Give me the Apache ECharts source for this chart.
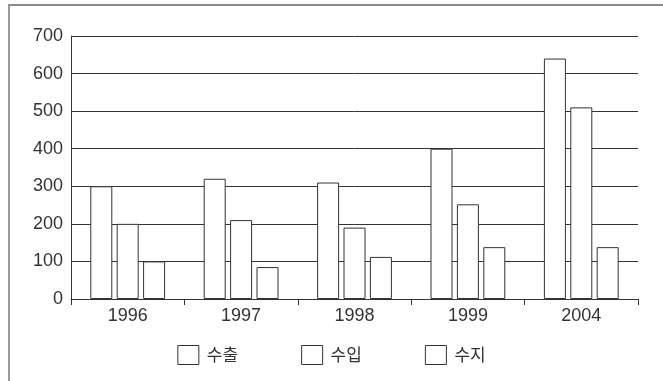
<!DOCTYPE html>
<html>
<head>
<meta charset="utf-8">
<script src="https://cdn.jsdelivr.net/npm/echarts@6/dist/echarts.min.js"></script>
<style>
  html, body { margin: 0; padding: 0; background: #fff; }
  #wrap { position: relative; width: 663px; height: 381px; overflow: hidden; }
  #chart { position: absolute; left: 0; top: 0; width: 663px; height: 381px; }
  #frame { position: absolute; left: 8px; top: 4px; width: 670px; height: 400px;
           border-top: 2px solid #8a8a8a; border-left: 2px solid #9a9a9a;
           pointer-events: none; }
</style>
</head>
<body>
<div id="wrap">
  <div id="chart"></div>
  <div id="frame"></div>
</div>
<script>
// 연도별 수출·수입·수지
const years = ['1996', '1997', '1998', '1999', '2004'];
const exportVals = [300, 320, 310, 400, 640];
const importVals = [200, 210, 190, 252, 510];
const balanceVals = [100, 85, 112, 138, 138];
const seriesNames = ['수출', '수입', '수지'];
const yTicks = [0, 100, 200, 300, 400, 500, 600, 700];

const lineColor = '#333333';
const barStyle = { color: '#ffffff', borderColor: '#333333', borderWidth: 1 };

const chart = echarts.init(document.getElementById('chart'), null, { renderer: 'canvas' });

chart.setOption({
  animation: false,
  backgroundColor: '#ffffff',
  grid: { left: 71, right: 25, top: 36, bottom: 82, containLabel: false },
  legend: {
    data: seriesNames,
    top: 340,
    left: 'center',
    icon: 'rect',
    itemWidth: 21,
    itemHeight: 19,
    itemGap: 63,
    itemStyle: { color: '#ffffff', borderColor: '#333333', borderWidth: 1 },
    textStyle: {
      fontFamily: '"Noto Sans CJK KR", sans-serif',
      fontSize: 17,
      color: '#333333',
      padding: [0, 0, 0, 3]
    }
  },
  xAxis: {
    type: 'category',
    data: years,
    boundaryGap: true,
    axisLine: { show: true, lineStyle: { color: lineColor, width: 1 } },
    axisTick: { show: true, length: 6, lineStyle: { color: lineColor } },
    axisLabel: {
      margin: 8,
      fontFamily: '"Liberation Sans", Arial, sans-serif',
      fontSize: 18,
      color: '#333333'
    },
    splitLine: { show: false }
  },
  yAxis: {
    type: 'value',
    min: yTicks[0],
    max: yTicks[yTicks.length - 1],
    interval: 100,
    axisLine: { show: true, lineStyle: { color: lineColor, width: 1 } },
    axisTick: { show: false },
    axisLabel: {
      margin: 8,
      fontFamily: '"Liberation Sans", Arial, sans-serif',
      fontSize: 18,
      color: '#333333'
    },
    splitLine: { show: true, lineStyle: { color: lineColor, width: 1 } }
  },
  series: [
    { name: seriesNames[0], type: 'bar', data: exportVals, barWidth: 22, barGap: '20%', itemStyle: barStyle },
    { name: seriesNames[1], type: 'bar', data: importVals, barWidth: 22, barGap: '20%', itemStyle: barStyle },
    { name: seriesNames[2], type: 'bar', data: balanceVals, barWidth: 22, barGap: '20%', itemStyle: barStyle }
  ]
});
</script>
</body>
</html>
